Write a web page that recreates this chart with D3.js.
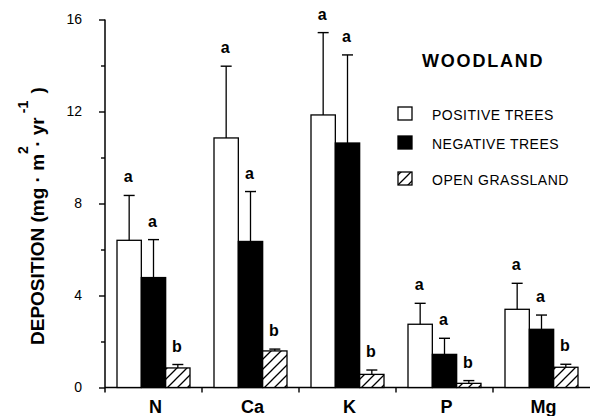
<!DOCTYPE html>
<html>
<head>
<meta charset="utf-8">
<script src="https://cdn.jsdelivr.net/npm/d3@7"></script>
<style>
  html, body { margin: 0; padding: 0; background: #fff; }
  svg { display: block; }
  text { font-family: "Liberation Sans", Arial, Helvetica, sans-serif; fill: #000; }
</style>
</head>
<body>
<div id="chart"></div>
<script>
// Nutrient deposition under woodland canopy types (mean + SE)
const nutrients = ["N", "Ca", "K", "P", "Mg"];
const seriesNames = ["POSITIVE TREES", "NEGATIVE TREES", "OPEN GRASSLAND"];

const positiveTrees = [6.4, 10.85, 11.85, 2.75, 3.4];
const positiveSE    = [1.95, 3.12, 3.58, 0.91, 1.13];
const negativeTrees = [4.78, 6.35, 10.63, 1.44, 2.53];
const negativeSE    = [1.65, 2.17, 3.83, 0.70, 0.62];
const openGrassland = [0.85, 1.59, 0.57, 0.18, 0.88];
const openSE        = [0.15, 0.08, 0.19, 0.12, 0.13];

const positiveLetters = ["a", "a", "a", "a", "a"];
const negativeLetters = ["a", "a", "a", "a", "a"];
const openLetters     = ["b", "b", "b", "b", "b"];

const yTicks = [0, 4, 8, 12, 16];
const yMinorTicks = [2, 6, 10, 14];
const legendTitle = "WOODLAND";

const W = 590, H = 416;
const svg = d3.select("#chart").append("svg")
  .attr("width", W).attr("height", H);

const defs = svg.append("defs");
const hatch = defs.append("pattern")
  .attr("id", "hatch")
  .attr("patternUnits", "userSpaceOnUse")
  .attr("width", 10).attr("height", 10);
hatch.append("rect").attr("width", 10).attr("height", 10).attr("fill", "#fff");
hatch.append("path")
  .attr("d", "M0,10 L10,0 M-2,2 L2,-2 M8,12 L12,8")
  .attr("stroke", "#000").attr("stroke-width", 1.3);

const fills = ["#fff", "#000", "url(#hatch)"];

const rows = nutrients.map((n, i) => ({
  nutrient: n,
  values: [
    { series: seriesNames[0], value: positiveTrees[i], se: positiveSE[i], letter: positiveLetters[i] },
    { series: seriesNames[1], value: negativeTrees[i], se: negativeSE[i], letter: negativeLetters[i] },
    { series: seriesNames[2], value: openGrassland[i], se: openSE[i], letter: openLetters[i] }
  ]
}));

const x0 = d3.scaleBand().domain(nutrients).range([105, 590]).padding(0);
const x1 = d3.scaleBand().domain(seriesNames).range([12, x0.bandwidth() - 12]).padding(0);
const y = d3.scaleLinear().domain([0, 16]).range([387.5, 19.5]);
const color = d3.scaleOrdinal().domain(seriesNames).range(fills);

// y axis
const yAxisG = svg.append("g").attr("transform", "translate(105,0)");
yAxisG.call(d3.axisLeft(y).tickValues(yTicks).tickSize(6).tickPadding(17).tickSizeOuter(0));
const yMinorG = svg.append("g").attr("transform", "translate(105,0)");
yMinorG.call(d3.axisLeft(y).tickValues(yMinorTicks).tickSize(4).tickFormat("").tickSizeOuter(0));
[yAxisG, yMinorG].forEach(g => {
  g.select(".domain").remove();
  g.selectAll(".tick line").attr("stroke", "#000").attr("stroke-width", 1.4);
});
yAxisG.selectAll(".tick text")
  .style("font-size", "14px")
  .style("font-family", "'Liberation Sans', Arial, sans-serif");
svg.append("line")
  .attr("x1", 105).attr("x2", 105)
  .attr("y1", y(16)).attr("y2", y(0) + 5)
  .attr("stroke", "#000").attr("stroke-width", 1.5);

// x axis line and group separators
svg.append("line")
  .attr("x1", 105).attr("x2", 590)
  .attr("y1", y(0)).attr("y2", y(0))
  .attr("stroke", "#000").attr("stroke-width", 1.5);
svg.append("g").selectAll("line")
  .data(nutrients.slice(0, -1))
  .join("line")
  .attr("x1", d => x0(d) + x0.bandwidth())
  .attr("x2", d => x0(d) + x0.bandwidth())
  .attr("y1", y(0)).attr("y2", y(0) + 5)
  .attr("stroke", "#000").attr("stroke-width", 1.4);

svg.append("g").selectAll("text")
  .data(nutrients)
  .join("text")
  .attr("x", d => x0(d) + x0.bandwidth() / 2 + 2)
  .attr("y", 413)
  .attr("text-anchor", "middle")
  .style("font-size", "18px")
  .style("font-weight", "bold")
  .text(d => d);

// bars, error bars and significance letters
const groups = svg.append("g").selectAll("g")
  .data(rows)
  .join("g")
  .attr("transform", d => `translate(${x0(d.nutrient)},0)`);

groups.selectAll("rect")
  .data(d => d.values)
  .join("rect")
  .attr("x", d => x1(d.series))
  .attr("y", d => y(d.value))
  .attr("width", x1.bandwidth())
  .attr("height", d => y(0) - y(d.value))
  .attr("fill", d => color(d.series))
  .attr("stroke", "#000")
  .attr("stroke-width", 1.3);

const cx = d => x1(d.series) + x1.bandwidth() / 2;

groups.selectAll("line.err")
  .data(d => d.values)
  .join("line")
  .attr("class", "err")
  .attr("x1", cx).attr("x2", cx)
  .attr("y1", d => y(d.value)).attr("y2", d => y(d.value + d.se))
  .attr("stroke", "#000").attr("stroke-width", 1.3);

groups.selectAll("line.cap")
  .data(d => d.values)
  .join("line")
  .attr("class", "cap")
  .attr("x1", d => cx(d) - 5.5).attr("x2", d => cx(d) + 5.5)
  .attr("y1", d => y(d.value + d.se)).attr("y2", d => y(d.value + d.se))
  .attr("stroke", "#000").attr("stroke-width", 1.4);

groups.selectAll("text.sig")
  .data(d => d.values)
  .join("text")
  .attr("class", "sig")
  .attr("x", d => cx(d) - 1)
  .attr("y", d => y(d.value + d.se) - 13)
  .attr("text-anchor", "middle")
  .style("font-size", "16px")
  .style("font-weight", "bold")
  .text(d => d.letter);

// y axis title with superscripts
const yTitle = svg.append("text")
  .attr("transform", "translate(44,345) rotate(-90)")
  .style("font-size", "19px")
  .style("font-weight", "bold");
yTitle.append("tspan").text("DEPOSITION  (mg · m");
yTitle.append("tspan").attr("dy", -16).style("font-size", "14px").text("2");
yTitle.append("tspan").attr("dy", 16).attr("dx", -6).text(" · yr");
yTitle.append("tspan").attr("dy", -16).attr("dx", 4).style("font-size", "14px").text("-1");
yTitle.append("tspan").attr("dy", 16).attr("dx", 2).text(" )");

// legend
svg.append("text")
  .attr("x", 422).attr("y", 67)
  .style("font-size", "18px")
  .style("font-weight", "bold")
  .style("letter-spacing", "1.8px")
  .text(legendTitle);

const legendBaselines = [120, 149, 185];
const legend = svg.append("g").selectAll("g")
  .data(seriesNames)
  .join("g")
  .attr("transform", (d, i) => `translate(398,${legendBaselines[i]})`);
legend.append("rect")
  .attr("x", 0).attr("y", -13)
  .attr("width", 14).attr("height", 13)
  .attr("fill", d => color(d))
  .attr("stroke", "#000").attr("stroke-width", 1.3);
legend.append("text")
  .attr("x", 34).attr("y", 0)
  .style("font-size", "14px")
  .style("letter-spacing", "0.5px")
  .text(d => d);
</script>
</body>
</html>
